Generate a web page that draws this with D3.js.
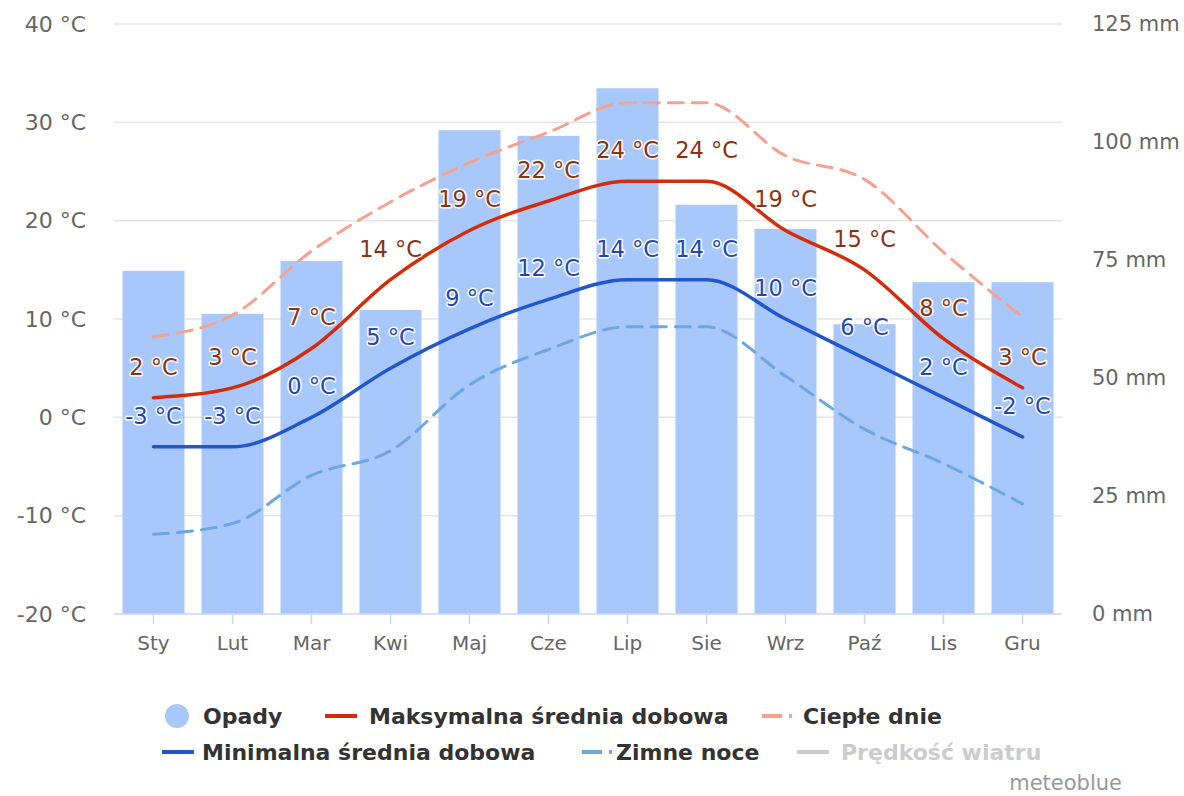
<!DOCTYPE html>
<html>
<head>
<meta charset="utf-8">
<script src="https://cdn.jsdelivr.net/npm/d3@7"></script>
<style>
  html, body { margin: 0; padding: 0; background: #fff; }
  svg { display: block; font-family: "DejaVu Sans", Verdana, sans-serif; }
</style>
</head>
<body>
<svg id="chart" width="1184" height="796"></svg>
<script>
// ---- data ----
const months = ["Sty","Lut","Mar","Kwi","Maj","Cze","Lip","Sie","Wrz","Paź","Lis","Gru"];
const precip = [72.7, 63.6, 74.8, 64.4, 102.5, 101.3, 111.4, 86.7, 81.6, 61.4, 70.3, 70.3];
const maxTemp = [2, 3, 7, 14, 19, 22, 24, 24, 19, 15, 8, 3];
const minTemp = [-3, -3, 0, 5, 9, 12, 14, 14, 10, 6, 2, -2];
const hotDays = [8.2, 10.4, 16.9, 21.9, 25.9, 29.0, 32.0, 32.0, 26.6, 24.2, 16.8, 10.2];
const coldNights = [-11.9, -10.8, -5.9, -3.4, 3.3, 6.9, 9.2, 9.2, 4.2, -1.2, -4.7, -8.8];
const tempTicks = [-20, -10, 0, 10, 20, 30, 40];
const precipTicks = [0, 25, 50, 75, 100, 125];
const legendRow1 = ["Opady", "Maksymalna średnia dobowa", "Ciepłe dnie"];
const legendRow2 = ["Minimalna średnia dobowa", "Zimne noce", "Prędkość wiatru"];

// ---- styles ----
const C = {
  bar: "#a8c8fb", maxLine: "#d42c0a", minLine: "#2356cc", hot: "#f4a28f", cold: "#6ea6e2",
  wind: "#cccccc", grid: "#e6e6e6", axis: "#ccd6eb", label: "#666666",
  maxLabel: "#8a3212", minLabel: "#2246b8"
};

const svg = d3.select("#chart");
const x = d3.scaleBand().domain(months).range([114, 1062]).paddingInner(0.215).paddingOuter(0.1075);
const yT = d3.scaleLinear().domain([-20, 40]).range([614, 24]);
const yP = d3.scaleLinear().domain([0, 125]).range([614, 24]);
const cx = m => x(m) + x.bandwidth() / 2;

// gridlines
svg.append("g").selectAll("line").data(tempTicks.filter(t => t > -20)).join("line")
  .attr("x1", 114).attr("x2", 1062)
  .attr("y1", d => yT(d)).attr("y2", d => yT(d))
  .attr("stroke", C.grid).attr("stroke-width", 1.5);

// left axis labels
svg.append("g").selectAll("text").data(tempTicks).join("text")
  .attr("x", 86).attr("y", d => yT(d)).attr("dy", "0.35em")
  .attr("text-anchor", "end").attr("font-size", 22).attr("fill", C.label)
  .text(d => `${d} °C`);

// right axis labels
svg.append("g").selectAll("text").data(precipTicks).join("text")
  .attr("x", 1092).attr("y", d => yP(d)).attr("dy", "0.35em")
  .attr("text-anchor", "start").attr("font-size", 21).attr("fill", C.label)
  .text(d => `${d} mm`);

// bars
svg.append("g").selectAll("rect").data(months).join("rect")
  .attr("x", m => x(m)).attr("width", x.bandwidth())
  .attr("y", (m, i) => yP(precip[i])).attr("height", (m, i) => yP(0) - yP(precip[i]))
  .attr("fill", C.bar);

// bottom axis
svg.append("line").attr("x1", 114).attr("x2", 1062).attr("y1", 614).attr("y2", 614)
  .attr("stroke", C.axis).attr("stroke-width", 1.5);
svg.append("g").selectAll("line").data(months).join("line")
  .attr("x1", cx).attr("x2", cx).attr("y1", 614).attr("y2", 624)
  .attr("stroke", C.axis).attr("stroke-width", 1.5);
svg.append("g").selectAll("text").data(months).join("text")
  .attr("x", cx).attr("y", 643).attr("dy", "0.35em")
  .attr("text-anchor", "middle").attr("font-size", 20).attr("fill", C.label)
  .text(d => d);

// lines
const line = d3.line().x((d, i) => cx(months[i])).y(d => yT(d)).curve(d3.curveMonotoneX);
function drawLine(data, color, width, dash) {
  svg.append("path").datum(data).attr("d", line)
    .attr("fill", "none").attr("stroke", color).attr("stroke-width", width)
    .attr("stroke-linecap", "round").attr("stroke-linejoin", "round")
    .attr("stroke-dasharray", dash || null);
}
drawLine(hotDays, C.hot, 3, "15,9");
drawLine(coldNights, C.cold, 3, "15,9");
drawLine(maxTemp, C.maxLine, 3.5);
drawLine(minTemp, C.minLine, 3.5);

// data labels
function drawLabels(data, color) {
  svg.append("g").selectAll("text").data(data).join("text")
    .attr("x", (d, i) => cx(months[i])).attr("y", d => yT(d) - 31).attr("dy", "0.35em")
    .attr("text-anchor", "middle").attr("font-size", 22.5).attr("font-weight", 500).attr("fill", color)
    .attr("stroke", "#ffffff").attr("stroke-width", 3).attr("stroke-linejoin", "round")
    .attr("paint-order", "stroke")
    .text(d => `${d} °C`);
}
drawLabels(maxTemp, C.maxLabel);
drawLabels(minTemp, C.minLabel);

// legend
const lg = svg.append("g").attr("font-size", 22).attr("font-weight", "bold");
function legendText(xp, yp, txt, fill) {
  lg.append("text").attr("x", xp).attr("y", yp).attr("dy", "0.35em").attr("fill", fill || "#333333").text(txt);
}
function legendLine(x1, yp, color, dashed) {
  if (dashed) {
    lg.append("line").attr("x1", x1).attr("x2", x1 + 20).attr("y1", yp).attr("y2", yp)
      .attr("stroke", color).attr("stroke-width", 4);
    lg.append("line").attr("x1", x1 + 27).attr("x2", x1 + 30).attr("y1", yp).attr("y2", yp)
      .attr("stroke", color).attr("stroke-width", 4);
  } else {
    lg.append("line").attr("x1", x1).attr("x2", x1 + 32).attr("y1", yp).attr("y2", yp)
      .attr("stroke", color).attr("stroke-width", 4);
  }
}
const r1 = 716, r2 = 752;
lg.append("circle").attr("cx", 177).attr("cy", r1).attr("r", 12).attr("fill", C.bar);
legendText(203, r1, legendRow1[0]);
legendLine(325, r1, C.maxLine);
legendText(369, r1, legendRow1[1]);
legendLine(762, r1, C.hot, true);
legendText(803, r1, legendRow1[2]);
legendLine(162, r2, C.minLine);
legendText(202, r2, legendRow2[0]);
legendLine(582, r2, C.cold, true);
legendText(616, r2, legendRow2[1]);
legendLine(797, r2, C.wind);
legendText(841, r2, legendRow2[2], "#cccccc");

svg.append("text").attr("x", 1122).attr("y", 783).attr("dy", "0.35em")
  .attr("text-anchor", "end").attr("font-size", 21).attr("fill", "#999999").text("meteoblue");
</script>
</body>
</html>
